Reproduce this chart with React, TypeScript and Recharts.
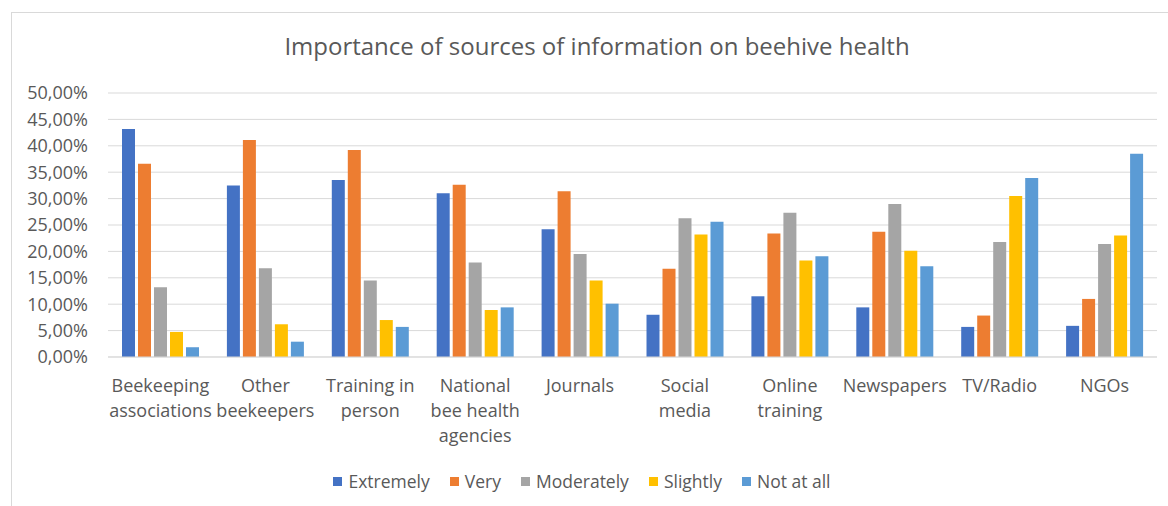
import React from 'react';
import { BarChart, Bar, XAxis, YAxis, CartesianGrid } from 'recharts';

// categories (\n = line break in the axis label)
const categories = [
  'Beekeeping\nassociations',
  'Other\nbeekeepers',
  'Training in\nperson',
  'National\nbee health\nagencies',
  'Journals',
  'Social\nmedia',
  'Online\ntraining',
  'Newspapers',
  'TV/Radio',
  'NGOs',
];

// values in %
const extremely = [43.2, 32.5, 33.5, 31.0, 24.2, 8.0, 11.5, 9.4, 5.7, 5.9];
const very = [36.6, 41.1, 39.2, 32.6, 31.4, 16.7, 23.4, 23.7, 7.85, 11.0];
const moderately = [13.2, 16.8, 14.5, 17.9, 19.5, 26.3, 27.3, 29.0, 21.8, 21.4];
const slightly = [4.75, 6.2, 7.0, 8.9, 14.5, 23.2, 18.3, 20.1, 30.5, 23.0];
const notAtAll = [1.85, 2.9, 5.7, 9.4, 10.1, 25.6, 19.1, 17.2, 33.9, 38.5];

const yTicks = [0, 5, 10, 15, 20, 25, 30, 35, 40, 45, 50];

const series = [
  { key: 'extremely', name: 'Extremely', color: '#4472C4', values: extremely },
  { key: 'very', name: 'Very', color: '#ED7D31', values: very },
  { key: 'moderately', name: 'Moderately', color: '#A5A5A5', values: moderately },
  { key: 'slightly', name: 'Slightly', color: '#FFC000', values: slightly },
  { key: 'notAtAll', name: 'Not at all', color: '#5B9BD5', values: notAtAll },
];

const rows = categories.map((name, i) => {
  const row: Record<string, any> = { name };
  series.forEach((s) => (row[s.key] = s.values[i]));
  return row;
});

const TEXT = '#595959';
const FONT = '"Open Sans", sans-serif';

const fmtPct = (v: number) => v.toFixed(2).replace('.', ',') + '%';

const CategoryTick: React.FC<any> = ({ x, y, payload }) => {
  const lines = String(payload.value).split('\n');
  return (
    <g transform={`translate(${x},${y})`}>
      {lines.map((line, i) => (
        <text key={i} x={0} y={0} dy={33 + i * 25} textAnchor="middle" fill={TEXT} fontSize={18} fontFamily={FONT}>
          {line}
        </text>
      ))}
    </g>
  );
};

export default function App() {
  return (
    <div style={{ position: 'absolute', left: 0, top: 0, width: 1168, height: 506, overflow: 'hidden', background: '#fff', fontFamily: FONT }}>
      <div style={{ position: 'absolute', left: 11, top: 12, width: 1200, height: 540, border: '1px solid #d9d9d9' }} />
      <div style={{ position: 'absolute', left: 11, width: 1172, top: 29, textAlign: 'center', fontSize: 24, color: TEXT }}>
        Importance of sources of information on beehive health
      </div>
      <BarChart
        width={1168}
        height={506}
        data={rows}
        margin={{ top: 93, right: 11, bottom: 49, left: 18 }}
        barCategoryGap={14}
        barGap={3}
      >
        <CartesianGrid vertical={false} stroke="#d9d9d9" />
        <XAxis
          dataKey="name"
          interval={0}
          height={100}
          tickLine={false}
          tickSize={0}
          tick={<CategoryTick />}
          axisLine={{ stroke: '#d9d9d9' }}
        />
        <YAxis
          domain={[0, 50]}
          ticks={yTicks}
          width={90}
          axisLine={false}
          tickLine={false}
          tickSize={0}
          tickMargin={20}
          tickFormatter={fmtPct}
          tick={{ fill: TEXT, fontSize: 18, fontFamily: FONT }}
        />
        {series.map((s) => (
          <Bar key={s.key} dataKey={s.key} name={s.name} fill={s.color} isAnimationActive={false} />
        ))}
      </BarChart>
      <div style={{ position: 'absolute', top: 469, left: 0, width: 1168, display: 'flex', justifyContent: 'center', marginLeft: 8, fontSize: 17.5, color: TEXT }}>
        {series.map((s) => (
          <div key={s.key} style={{ display: 'flex', alignItems: 'center', marginRight: 20 }}>
            <span style={{ display: 'inline-block', width: 9, height: 9, background: s.color, marginRight: 6 }} />
            <span>{s.name}</span>
          </div>
        ))}
      </div>
    </div>
  );
}
